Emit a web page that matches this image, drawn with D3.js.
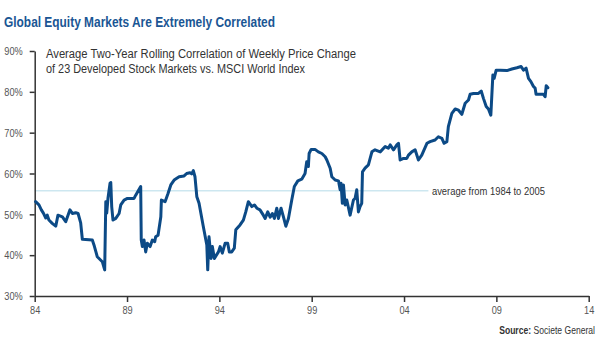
<!DOCTYPE html>
<html>
<head>
<meta charset="utf-8">
<script src="https://cdn.jsdelivr.net/npm/d3@7"></script>
<style>
  body { margin: 0; background: #fff; }
  svg { display: block; }
  .narrow { font-family: "Liberation Sans", Arial, sans-serif; }
</style>
</head>
<body>
<div id="chart"></div>
<script>
// ===== data =====
const years = [
  1984.05, 1984.23, 1984.36, 1984.47, 1984.60, 1984.68, 1984.77, 1984.95, 1985.14, 1985.26,
  1985.50, 1985.68, 1985.91, 1986.04, 1986.22, 1986.35, 1986.49, 1986.58, 1987.12, 1987.21,
  1987.39, 1987.66, 1987.79, 1987.85, 1987.90, 1987.97, 1988.08, 1988.12, 1988.17, 1988.24,
  1988.39, 1988.57, 1988.66, 1988.84, 1989.02, 1989.38, 1989.47, 1989.74, 1989.77, 1989.83,
  1989.92, 1990.01, 1990.10, 1990.25, 1990.37, 1990.50, 1990.55, 1990.68, 1990.83, 1990.86,
  1991.06, 1991.22, 1991.37, 1991.55, 1991.82, 1992.09, 1992.23, 1992.41, 1992.50, 1992.59,
  1992.68, 1992.78, 1992.90, 1993.13, 1993.32, 1993.37, 1993.44, 1993.55, 1993.62, 1993.73,
  1993.95, 1994.04, 1994.16, 1994.31, 1994.45, 1994.54, 1994.67, 1994.81, 1994.89, 1995.12,
  1995.30, 1995.43, 1995.57, 1995.76, 1995.90, 1996.03, 1996.20, 1996.38, 1996.48, 1996.62,
  1996.75, 1996.87, 1996.98, 1997.11, 1997.20, 1997.34, 1997.47, 1997.60, 1997.74, 1997.92,
  1998.06, 1998.25, 1998.46, 1998.64, 1998.73, 1998.82, 1998.86, 1998.97, 1999.18, 1999.36,
  1999.55, 1999.73, 1999.82, 2000.00, 2000.09, 2000.27, 2000.45, 2000.54, 2000.59, 2000.66,
  2000.72, 2000.81, 2000.90, 2001.08, 2001.26, 2001.35, 2001.44, 2001.53, 2001.62, 2001.71,
  2001.75, 2001.89, 2002.07, 2002.26, 2002.43, 2002.71, 2002.98, 2003.15, 2003.25, 2003.43,
  2003.61, 2003.70, 2003.79, 2003.97, 2004.15, 2004.24, 2004.42, 2004.60, 2004.78, 2004.96,
  2005.24, 2005.41, 2005.68, 2005.86, 2006.05, 2006.17, 2006.32, 2006.40, 2006.59, 2006.77,
  2006.95, 2007.13, 2007.31, 2007.49, 2007.58, 2007.76, 2008.03, 2008.18, 2008.30, 2008.45,
  2008.57, 2008.70, 2008.81, 2008.88, 2008.99, 2009.21, 2009.57, 2009.84, 2010.11, 2010.34,
  2010.47, 2010.61, 2010.74, 2010.87, 2011.01, 2011.10, 2011.15, 2011.37, 2011.55, 2011.64,
  2011.70, 2011.79
];
const correlation = [
  53.1, 52.3, 51.1, 50.3, 49.1, 49.8, 48.6, 47.8, 47.1, 49.8,
  49.4, 48.2, 51.1, 50.2, 50.4, 50.2, 47.9, 43.9, 43.7, 42.5,
  39.6, 38.4, 36.4, 53.1, 50.3, 54.0, 57.6, 57.8, 51.9, 48.6,
  49.0, 50.2, 52.3, 53.5, 53.9, 53.9, 54.7, 56.8, 43.7, 42.1,
  43.7, 40.8, 42.9, 42.1, 43.7, 43.3, 44.5, 44.9, 49.4, 53.5,
  53.1, 55.1, 57.2, 58.4, 59.2, 59.4, 60.0, 60.2, 59.9, 60.7,
  59.2, 54.3, 52.7, 47.0, 42.5, 36.4, 44.5, 39.2, 42.1, 39.2,
  40.8, 42.1, 40.5, 42.9, 42.9, 40.8, 40.8, 41.7, 46.2, 47.4,
  48.6, 50.6, 53.1, 51.9, 52.3, 51.5, 51.1, 49.8, 49.0, 50.6,
  49.3, 50.2, 49.0, 51.5, 49.0, 51.5, 49.4, 47.1, 49.0, 53.5,
  56.8, 58.2, 58.6, 60.0, 62.9, 61.7, 64.9, 65.9, 65.9, 65.3,
  64.9, 64.1, 63.3, 61.3, 59.2, 58.4, 58.2, 56.0, 57.6, 52.7,
  57.2, 52.3, 53.5, 49.8, 53.5, 53.9, 56.0, 50.6, 51.9, 52.7,
  60.4, 61.3, 62.1, 65.3, 65.8, 65.3, 66.6, 66.2, 67.0, 65.8,
  67.0, 67.4, 63.3, 63.7, 63.7, 64.5, 65.3, 65.8, 63.3, 64.5,
  67.4, 67.8, 68.2, 69.0, 68.6, 67.4, 67.8, 71.5, 74.7, 75.8,
  75.5, 74.5, 77.2, 78.0, 79.4, 79.6, 79.6, 80.2, 78.4, 76.4,
  75.8, 74.3, 84.1, 83.3, 85.3, 85.3, 85.2, 85.6, 85.9, 86.2,
  85.3, 85.8, 83.3, 82.5, 81.3, 80.9, 79.4, 79.4, 79.4, 78.8,
  81.5, 81.0
];
const xTickYears = [1984, 1989, 1994, 1999, 2004, 2009, 2014];
const yTickValues = [30, 40, 50, 60, 70, 80, 90];
const averageValue = 55.8;
const averagePeriod = [1984, 2005.32];

const titleText = 'Global Equity Markets Are Extremely Correlated';
const subtitleLines = [
  'Average Two-Year Rolling Correlation of Weekly Price Change',
  'of 23 Developed Stock Markets vs. MSCI World Index'
];
const averageLabel = 'average from 1984 to 2005';

// 細い書体がないので横方向に詰める
function condense(sel, factor) {
  sel.each(function() {
    const w = this.getComputedTextLength();
    d3.select(this)
      .attr('textLength', w * factor)
      .attr('lengthAdjust', 'spacingAndGlyphs');
  });
}

// ===== svg =====
const width = 600, height = 350;
const svg = d3.select('#chart').append('svg')
  .attr('width', width)
  .attr('height', height);

const x = d3.scaleLinear().domain([1984, 2014]).range([34.7, 588.7]);
const y = d3.scaleLinear().domain([30, 90]).range([296, 51]);

// title
svg.append('text')
  .attr('class', 'narrow')
  .attr('x', 4).attr('y', 27)
  .attr('font-size', '15px')
  .attr('font-weight', 'bold')
  .attr('fill', '#1a5694')
  .attr('textLength', 271)
  .attr('lengthAdjust', 'spacingAndGlyphs')
  .text(titleText);

// subtitle
svg.selectAll('.subtitle')
  .data(subtitleLines)
  .enter().append('text')
  .attr('class', 'narrow subtitle')
  .attr('x', 46)
  .attr('y', (d, i) => 57.5 + i * 15)
  .attr('font-size', '12px')
  .attr('fill', '#333')
  .attr('textLength', (d, i) => i === 0 ? 310 : 259)
  .attr('lengthAdjust', 'spacingAndGlyphs')
  .text(d => d);

// average line
svg.append('line')
  .attr('x1', x(averagePeriod[0]))
  .attr('x2', x(averagePeriod[1]))
  .attr('y1', y(averageValue))
  .attr('y2', y(averageValue))
  .attr('stroke', '#cde7f0')
  .attr('stroke-width', 1.5);

svg.append('text')
  .attr('class', 'narrow')
  .attr('x', x(averagePeriod[1]) + 3.5)
  .attr('y', y(averageValue))
  .attr('dy', '0.35em')
  .attr('font-size', '11px')
  .attr('fill', '#333')
  .attr('textLength', 113)
  .attr('lengthAdjust', 'spacingAndGlyphs')
  .text(averageLabel);

// axes
const xAxis = svg.append('g')
  .attr('transform', `translate(0,${y(30)})`)
  .call(d3.axisBottom(x)
    .tickValues(xTickYears)
    .tickSize(6)
    .tickSizeOuter(0)
    .tickFormat(d => String(d % 100).padStart(2, '0')));

const yAxis = svg.append('g')
  .attr('transform', `translate(${x(1984)},0)`)
  .call(d3.axisLeft(y)
    .tickValues(yTickValues)
    .tickSize(5)
    .tickSizeOuter(0)
    .tickFormat(d => d + '%'));

[xAxis, yAxis].forEach(g => {
  g.select('.domain').attr('stroke', '#333').attr('stroke-width', 1.5);
  g.selectAll('.tick line').attr('stroke', '#333').attr('stroke-width', 1.5);
  g.selectAll('.tick text')
    .attr('class', 'narrow')
    .attr('font-family', '"Liberation Sans", Arial, sans-serif')
    .attr('font-size', '11.5px')
    .attr('fill', '#555');
  condense(g.selectAll('.tick text'), 0.8);
});
xAxis.selectAll('.tick text').attr('y', 10);
yAxis.selectAll('.tick text').attr('x', -12);

// correlation line
const points = years.map((yr, i) => [yr, correlation[i]]);
svg.append('path')
  .datum(points)
  .attr('fill', 'none')
  .attr('stroke', '#0c4a86')
  .attr('stroke-width', 3)
  .attr('stroke-linejoin', 'round')
  .attr('stroke-linecap', 'round')
  .attr('d', d3.line().x(d => x(d[0])).y(d => y(d[1])));

// source (右端で切れないよう transform で横に縮める)
const src = svg.append('g')
  .attr('transform', 'translate(595,334) scale(0.78,1)');
const srcText = src.append('text')
  .attr('class', 'narrow')
  .attr('text-anchor', 'end')
  .attr('font-size', '11px')
  .attr('fill', '#333');
srcText.append('tspan').attr('font-weight', 'bold').text('Source:');
srcText.append('tspan').text(' Societe General');
</script>
</body>
</html>
